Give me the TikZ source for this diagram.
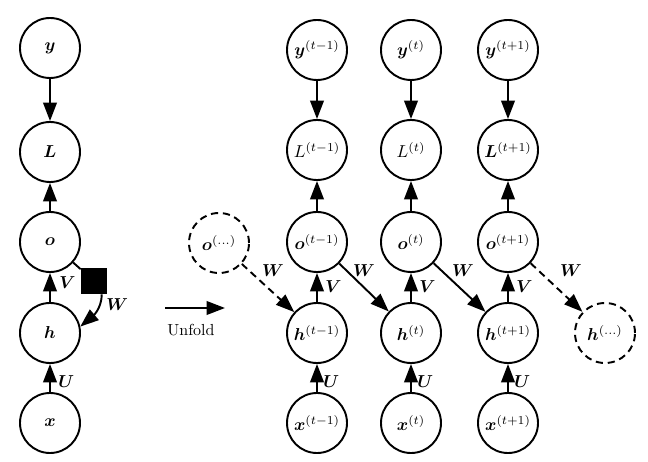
\documentclass[tikz,border=0pt]{standalone}
\usepackage{bm}
\usepackage{graphicx}
\usetikzlibrary{arrows.meta}
\newcommand{\mytx}[1]{\scalebox{1.08}{$#1$}}
\begin{document}
\begin{tikzpicture}[x=0.625pt,y=-0.625pt,
  unit/.style={circle,draw,line width=1.2pt,minimum size=37.5pt,inner sep=0pt},
  dunit/.style={unit,dash pattern=on 4.5pt off 3pt},
  arr/.style={line width=1.2pt,-{Triangle[length=11.5pt,width=8.5pt]}},
  darr/.style={arr,dash pattern=on 4.5pt off 3pt},
  lab/.style={inner sep=0pt,anchor=west}]
\useasboundingbox (0,0) rectangle (648,462);
% folded
\node[unit] (y) at (50,48) {\mytx{\bm{y}}};
\node[unit] (L) at (50,152) {\mytx{\bm{L}}};
\node[unit] (o) at (50,242) {\mytx{\bm{o}}};
\node[unit] (h) at (50,333) {\mytx{\bm{h}}};
\node[unit] (x) at (50,423) {\mytx{\bm{x}}};
\node[fill=black,minimum size=16.25pt,inner sep=0pt] (sq) at (94,281) {};
\draw[arr] (y) -- (L);
\draw[arr] (o) -- (L);
\draw[arr] (h) -- (o);
\draw[arr] (x) -- (h);
\node[lab] (vl) at (59,283) {\mytx{\bm{V}}};
\node[lab] (ul) at (58,382) {\mytx{\bm{U}}};
\draw[line width=1.2pt] (o) -- (sq);
\draw[arr] (sq.-60) to[out=-90,in=40] (h.12);
\node[lab] (wl) at (106,305) {\mytx{\bm{W}}};
% unfold
\coordinate (ua) at (165,308);
\coordinate (ub) at (225,308);
\draw[arr] (ua) -- (ub);
\node[inner sep=0pt] (unf) at (191,330) {Unfold};
% unfolded
\node[dunit] (od) at (219,243) {\mytx{\bm{o}^{(\dots)}}};
\node[dunit] (hd) at (605,333) {\mytx{\bm{h}^{(\dots)}}};
\foreach \n/\xx/\s/\Ls in {a/317/{t-1}/{L^{(t-1)}},b/411/{t}/{L^{(t)}},c/508/{t+1}/{\bm{L}^{(t+1)}}}{
  \node[unit] (y\n) at (\xx,50) {\mytx{\bm{y}^{(\s)}}};
  \node[unit] (L\n) at (\xx,150) {\mytx{\Ls}};
  \node[unit] (o\n) at (\xx,242) {\mytx{\bm{o}^{(\s)}}};
  \node[unit] (h\n) at (\xx,333) {\mytx{\bm{h}^{(\s)}}};
  \node[unit] (x\n) at (\xx,423) {\mytx{\bm{x}^{(\s)}}};
  \draw[arr] (y\n) -- (L\n);
  \draw[arr] (o\n) -- (L\n);
  \draw[arr] (h\n) -- (o\n);
  \draw[arr] (x\n) -- (h\n);
  \node[lab] (v\n) at (\xx+8,287) {\mytx{\bm{V}}};
  \node[lab] (u\n) at (\xx+6,382) {\mytx{\bm{U}}};
}
\draw[darr] (od) -- (ha);
\draw[arr] (oa) -- (hb);
\draw[arr] (ob) -- (hc);
\draw[darr] (oc) -- (hd);
\node[inner sep=0pt] (w1) at (273,271) {\mytx{\bm{W}}};
\node[inner sep=0pt] (w2) at (364,271) {\mytx{\bm{W}}};
\node[inner sep=0pt] (w3) at (463,271) {\mytx{\bm{W}}};
\node[inner sep=0pt] (w4) at (571,271) {\mytx{\bm{W}}};
\end{tikzpicture}
\end{document}
